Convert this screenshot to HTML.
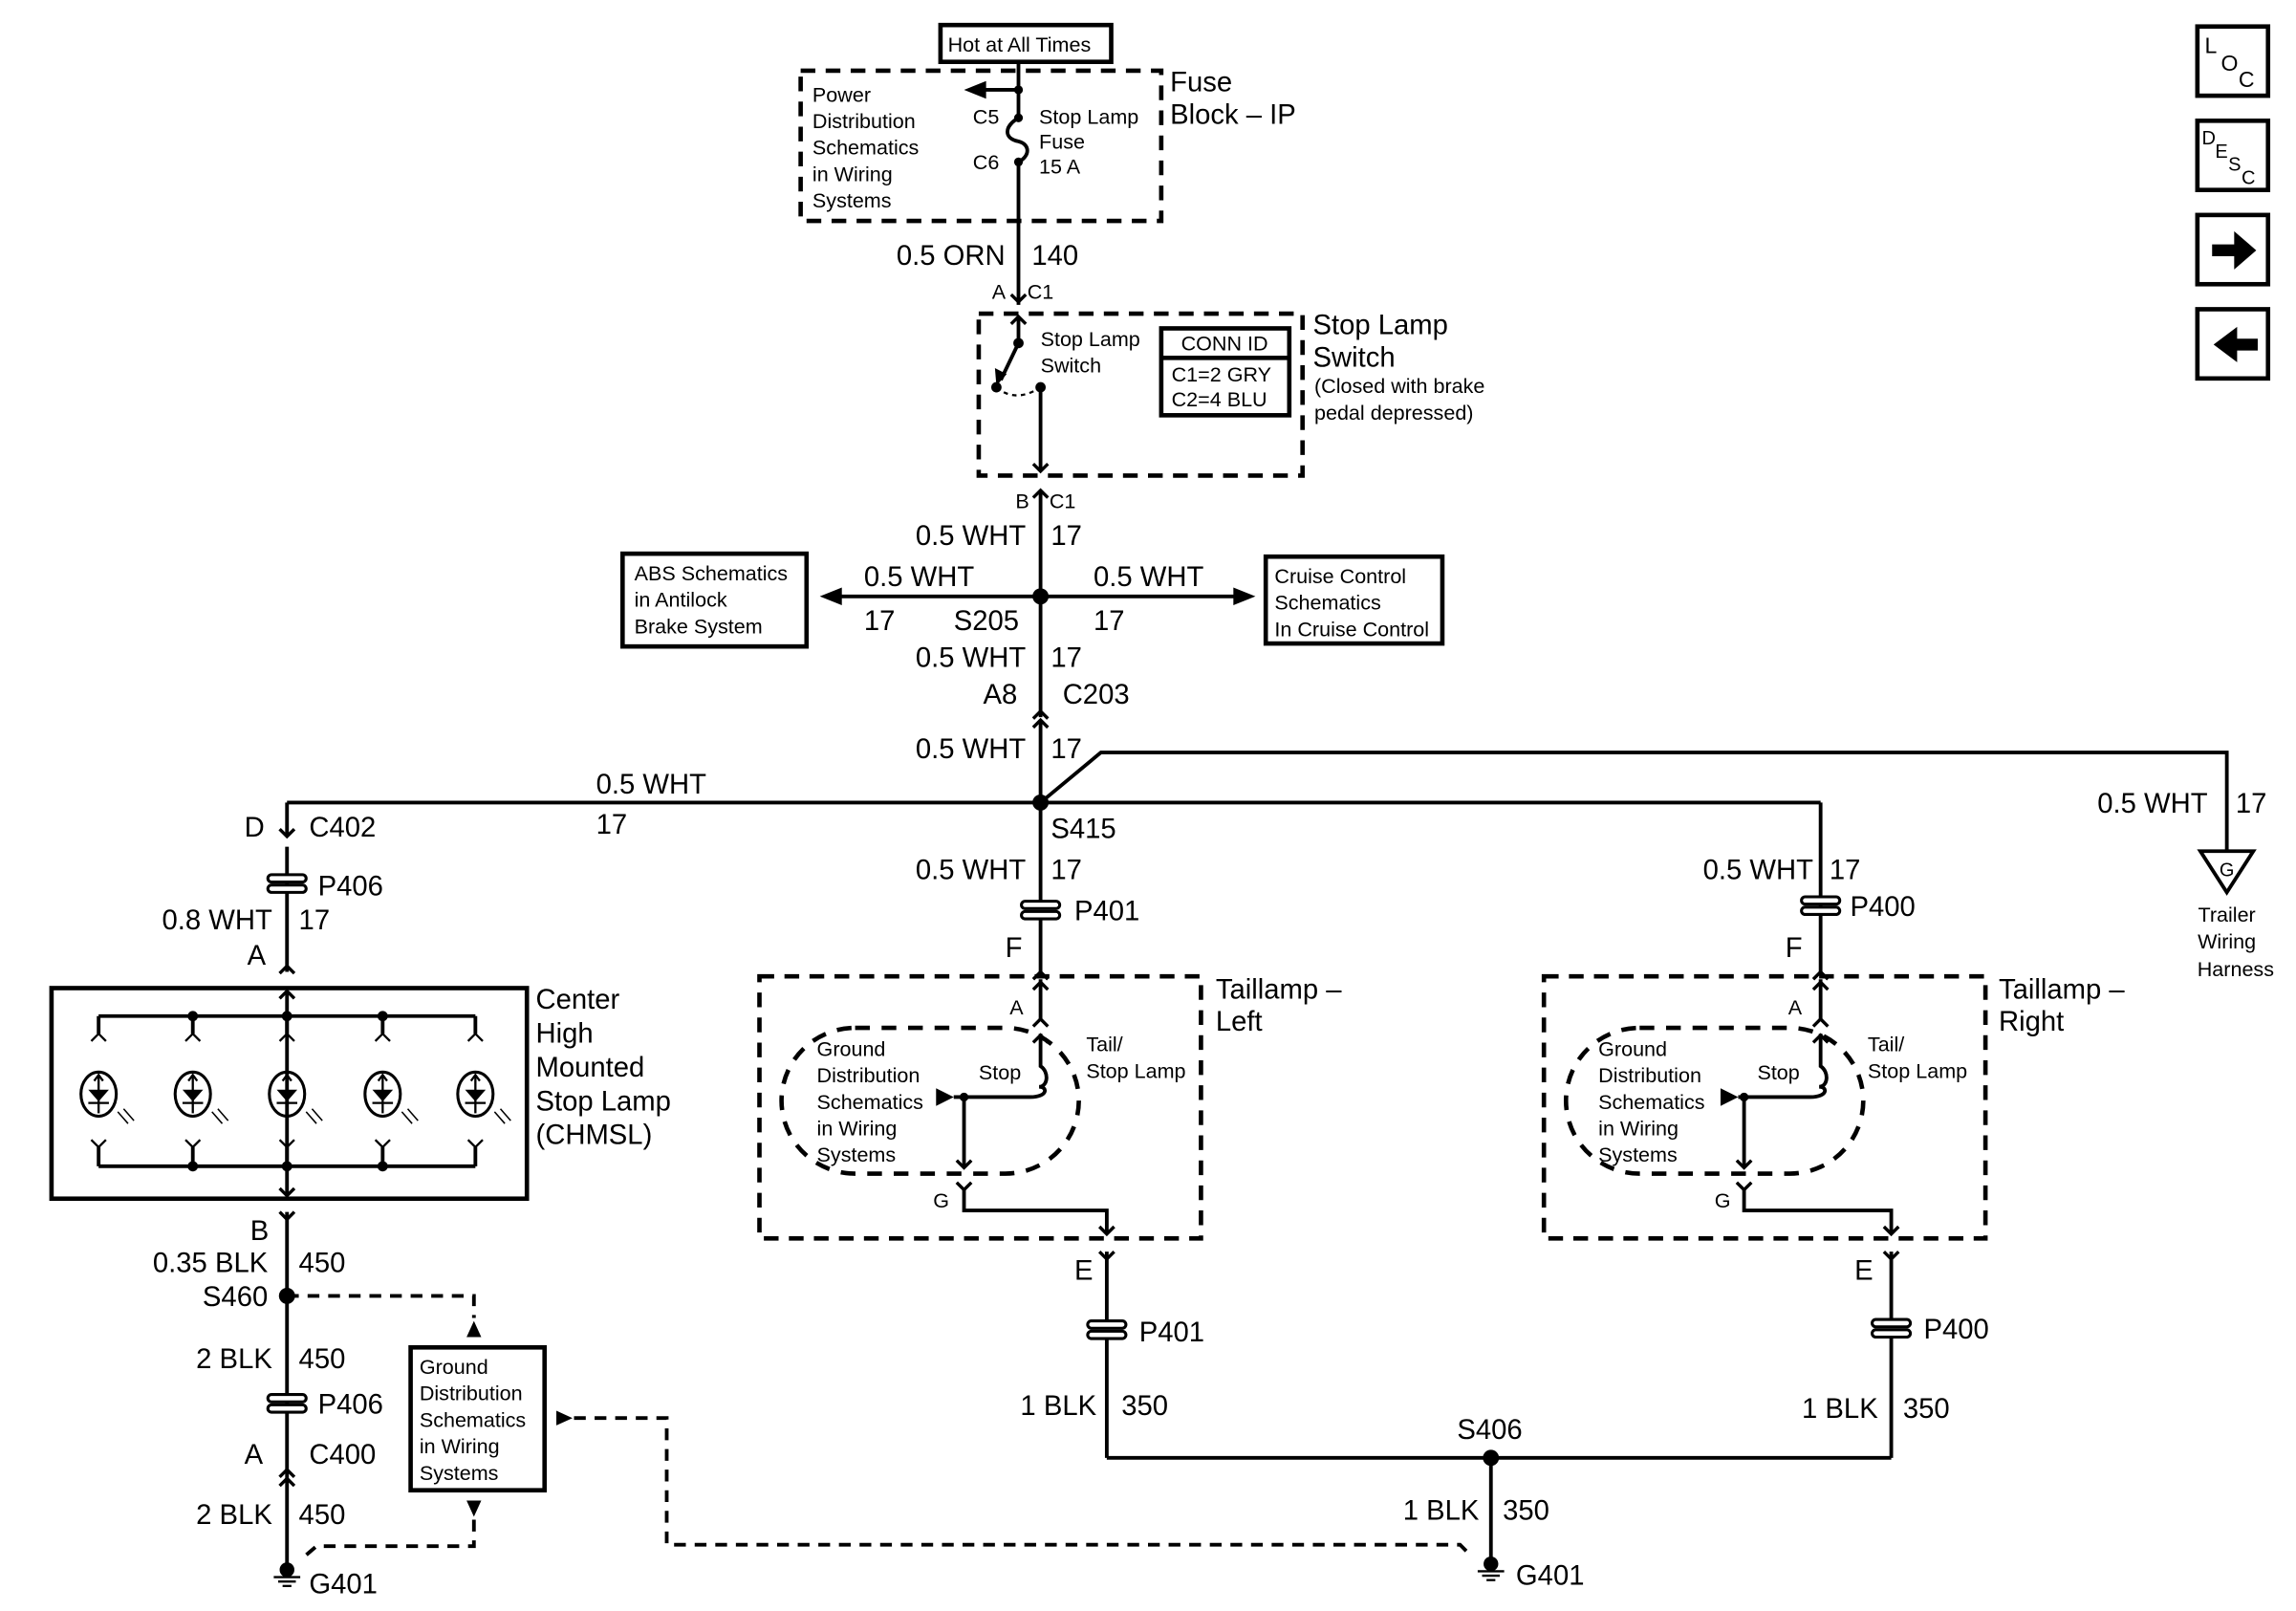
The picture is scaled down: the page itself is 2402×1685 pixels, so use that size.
<!DOCTYPE html>
<html><head><meta charset="utf-8"><style>
html,body{margin:0;padding:0;background:#fff;}
svg{display:block;}
text{font-family:"Liberation Sans",Arial,sans-serif;fill:#000;}
.b{font-size:19px;}
.s{font-size:14px;}
.m{font-size:13px;}
</style></head><body>
<svg width="2402" height="1685" viewBox="0 0 1560 1094" preserveAspectRatio="none" xmlns="http://www.w3.org/2000/svg">
<defs>
<g id="chv"><polyline points="-5,5 0,0 5,5" fill="none" stroke="#000" stroke-width="2.2"/></g>
<g id="chd"><polyline points="-5,-5 0,0 5,-5" fill="none" stroke="#000" stroke-width="2.2"/></g>
<g id="pc"><rect x="-13" y="-6" width="26" height="5" rx="2.5" fill="#fff" stroke="#000" stroke-width="2"/><rect x="-13" y="1" width="26" height="5" rx="2.5" fill="#fff" stroke="#000" stroke-width="2"/></g>
<g id="gnd"><circle cx="0" cy="0" r="5" fill="#000"/><line x1="-9" y1="5" x2="9" y2="5" stroke="#000" stroke-width="1.5"/><line x1="-6" y1="8" x2="6" y2="8" stroke="#000" stroke-width="1.5"/><line x1="-3" y1="11" x2="3" y2="11" stroke="#000" stroke-width="1.5"/></g>
<g id="lamp">
<polyline points="-5,-36 0,-41 5,-36" fill="none" stroke="#000" stroke-width="1.5"/>
<ellipse cx="0" cy="0" rx="12" ry="15" fill="none" stroke="#000" stroke-width="2"/>
<line x1="0" y1="-13" x2="0" y2="13" stroke="#000" stroke-width="1.5"/>
<polygon points="-7,-3 7,-3 0,5" fill="#000"/><line x1="-7" y1="6" x2="7" y2="6" stroke="#000" stroke-width="1.5"/>
<polyline points="-3,-9 0,-13 3,-9" fill="none" stroke="#000" stroke-width="1.5"/>
<polyline points="-5,31 0,36 5,31" fill="none" stroke="#000" stroke-width="1.5"/>
<line x1="13" y1="12" x2="20" y2="20" stroke="#000" stroke-width="1"/><line x1="17" y1="10" x2="24" y2="18" stroke="#000" stroke-width="1"/>
</g>
</defs>
<g stroke="#000" stroke-width="2.5" fill="none">
<rect x="639" y="17" width="116" height="25" stroke-width="3"/>
<rect x="544" y="48" width="245" height="102" stroke-width="3" stroke-dasharray="10,7"/>
<line x1="692" y1="42" x2="692" y2="80"/>
<line x1="692" y1="61" x2="668" y2="61" stroke-width="2.5"/>
<path d="M692,80 C682,86 682,94 692,96 C700,98 700,106 692,110"/>
<line x1="692" y1="110" x2="692" y2="207"/>
<line x1="692" y1="215" x2="692" y2="233"/>
<line x1="692" y1="233" x2="680" y2="258"/>
<path d="M677,263 Q690,274 707,263" stroke-dasharray="3,3" stroke-width="1.5"/>
<line x1="707" y1="263" x2="707" y2="320"/>
<rect x="665" y="213" width="220" height="110" stroke-width="3" stroke-dasharray="10,7"/>
<rect x="789" y="223" width="87" height="59" stroke-width="3"/>
<line x1="789" y1="243" x2="876" y2="243" stroke-width="3"/>
<line x1="707" y1="333" x2="707" y2="487"/>
<line x1="707" y1="490" x2="707" y2="614"/>
<line x1="570" y1="405" x2="840" y2="405" stroke-width="2.5"/>
<rect x="423" y="376" width="125" height="63" stroke-width="3"/>
<rect x="860" y="378" width="120" height="59" stroke-width="3"/>
<polyline points="707,545 748,511 1513,511 1513,578"/>
<polygon points="1495,578 1531,578 1513,606"/>
<line x1="195" y1="545" x2="1237" y2="545"/>
<line x1="195" y1="545" x2="195" y2="568"/>
<line x1="195" y1="575" x2="195" y2="660"/>
<line x1="1237" y1="545" x2="1237" y2="660"/>
<line x1="707" y1="620" x2="707" y2="660"/>
<rect x="35" y="671" width="323" height="143" stroke-width="3"/>
<line x1="195" y1="673" x2="195" y2="812"/>
<line x1="67" y1="690" x2="323" y2="690"/>
<line x1="67" y1="792" x2="323" y2="792"/>
<line x1="67" y1="690" x2="67" y2="702"/><line x1="131" y1="690" x2="131" y2="702"/><line x1="195" y1="690" x2="195" y2="702"/><line x1="260" y1="690" x2="260" y2="702"/><line x1="323" y1="690" x2="323" y2="702"/>
<line x1="67" y1="779" x2="67" y2="792"/><line x1="131" y1="779" x2="131" y2="792"/><line x1="195" y1="779" x2="195" y2="792"/><line x1="260" y1="779" x2="260" y2="792"/><line x1="323" y1="779" x2="323" y2="792"/>
<line x1="195" y1="823" x2="195" y2="1065"/>
<polyline points="195,880 322,880 322,895" stroke-dasharray="8,6"/>
<rect x="279" y="915" width="91" height="97" stroke-width="3"/>
<polyline points="322,1032 322,1050 215,1050 208,1056" stroke-dasharray="8,6"/>
<polyline points="390,963 453,963 453,1049 992,1049 1000,1057" stroke-dasharray="8,6"/>
<rect x="516" y="663" width="300" height="178" stroke-width="3" stroke-dasharray="10,7"/>
<rect x="531" y="698" width="202" height="99" rx="50" stroke-width="3" stroke-dasharray="10,8"/>
<line x1="707" y1="665" x2="707" y2="692"/>
<path d="M707,702 L707,724 C713,728 712,738 706,738 C712,738 712,745 700,745 L648,745"/>
<line x1="655" y1="745" x2="655" y2="793"/>
<polyline points="655,808 655,822 752,822 752,838"/>
<line x1="752" y1="850" x2="752" y2="900"/>
<line x1="752" y1="908" x2="752" y2="990"/>
<g transform="translate(533,0)">
<rect x="516" y="663" width="300" height="178" stroke-width="3" stroke-dasharray="10,7"/>
<rect x="531" y="698" width="202" height="99" rx="50" stroke-width="3" stroke-dasharray="10,8"/>
<line x1="704" y1="665" x2="704" y2="692"/>
<path d="M704,702 L704,724 C710,728 709,738 703,738 C709,738 709,745 697,745 L648,745"/>
<line x1="652" y1="745" x2="652" y2="793"/>
<polyline points="652,808 652,822 752,822 752,838"/>
<line x1="752" y1="850" x2="752" y2="898"/>
<line x1="752" y1="906" x2="752" y2="990"/>
</g>
<line x1="752" y1="990" x2="1285" y2="990"/>
<line x1="1013" y1="990" x2="1013" y2="1065"/>
<rect x="1493" y="18" width="48" height="47" stroke-width="3"/>
<rect x="1493" y="82" width="48" height="47" stroke-width="3"/>
<rect x="1493" y="146" width="48" height="47" stroke-width="3"/>
<rect x="1493" y="210" width="48" height="47" stroke-width="3"/>
</g>
<g fill="#000">
<polygon points="655,61 670,55 670,67"/>
<circle cx="692" cy="61" r="3"/><circle cx="692" cy="80" r="3"/><circle cx="692" cy="110" r="3"/>
<circle cx="692" cy="233" r="3.5"/><circle cx="677" cy="263" r="3.5"/><circle cx="707" cy="263" r="3.5"/>
<polygon points="677,262 676,250 684,254"/>
<polygon points="557,405 572,399 572,411"/><polygon points="853,405 838,399 838,411"/>
<circle cx="707" cy="405" r="5.5"/><circle cx="707" cy="545" r="5.5"/>
<circle cx="131" cy="690" r="3.5"/><circle cx="195" cy="690" r="3.5"/><circle cx="260" cy="690" r="3.5"/>
<circle cx="131" cy="792" r="3.5"/><circle cx="195" cy="792" r="3.5"/><circle cx="260" cy="792" r="3.5"/>
<circle cx="195" cy="880" r="5.5"/><circle cx="1013" cy="990" r="5.5"/>
<polygon points="322,897 317,908 327,908"/><polygon points="322,1030 317,1019 327,1019"/>
<polygon points="389,963 378,958 378,968"/>
<polygon points="648,745 636,739 636,751"/><circle cx="655" cy="745" r="3"/>
<polygon points="1181,745 1169,739 1169,751"/><circle cx="1185" cy="745" r="3"/>
<polygon points="1503,166 1518,166 1518,157 1533,170 1518,183 1518,174 1503,174"/>
<polygon points="1534,230 1520,230 1520,222 1504,234 1520,246 1520,238 1534,238"/>
</g>
<use href="#chd" x="692" y="205"/><use href="#chv" x="692" y="215"/>
<use href="#chv" x="707" y="333"/><use href="#chd" x="707" y="320"/>
<use href="#chv" x="707" y="483"/><use href="#chv" x="707" y="489"/>
<use href="#chd" x="195" y="568"/><use href="#pc" x="195" y="600"/>
<use href="#chv" x="195" y="656"/><use href="#chv" x="195" y="673"/><use href="#chd" x="195" y="812"/><use href="#chd" x="195" y="828"/>
<use href="#pc" x="195" y="953"/>
<use href="#chv" x="195" y="998"/><use href="#chv" x="195" y="1004"/>
<use href="#gnd" x="195" y="1066"/><use href="#gnd" x="1013" y="1062"/>
<use href="#pc" x="707" y="618"/><use href="#pc" x="1237" y="615"/>
<use href="#chv" x="707" y="660"/><use href="#chv" x="707" y="667"/><use href="#chv" x="707" y="692"/><use href="#chv" x="707" y="703"/>
<use href="#chv" x="1237" y="660"/><use href="#chv" x="1237" y="667"/><use href="#chv" x="1237" y="692"/><use href="#chv" x="1237" y="703"/>
<use href="#chd" x="655" y="793"/><use href="#chd" x="655" y="808"/><use href="#chd" x="752" y="838"/><use href="#chd" x="752" y="855"/>
<use href="#chd" x="1185" y="793"/><use href="#chd" x="1185" y="808"/><use href="#chd" x="1285" y="838"/><use href="#chd" x="1285" y="855"/>
<use href="#pc" x="752" y="903"/><use href="#pc" x="1285" y="902"/>
<use href="#lamp" x="67" y="743"/><use href="#lamp" x="131" y="743"/><use href="#lamp" x="195" y="743"/><use href="#lamp" x="260" y="743"/><use href="#lamp" x="323" y="743"/>
<text class="s" x="644" y="35">Hot at All Times</text>
<g class="s"><text x="552" y="69">Power</text><text x="552" y="87">Distribution</text><text x="552" y="105">Schematics</text><text x="552" y="123">in Wiring</text><text x="552" y="141">Systems</text>
<text x="661" y="84">C5</text><text x="661" y="115">C6</text><text x="706" y="84">Stop Lamp</text><text x="706" y="101">Fuse</text><text x="706" y="118">15 A</text></g>
<text class="b" x="795" y="62">Fuse</text><text class="b" x="795" y="84">Block – IP</text>
<text class="b" x="683" y="180" text-anchor="end">0.5 ORN</text><text class="b" x="701" y="180">140</text>
<text class="s" x="674" y="203">A</text><text class="s" x="698" y="203">C1</text>
<text class="s" x="707" y="235">Stop Lamp</text><text class="s" x="707" y="253">Switch</text>
<text class="s" x="832" y="238" text-anchor="middle">CONN ID</text><text class="s" x="796" y="259">C1=2 GRY</text><text class="s" x="796" y="276">C2=4 BLU</text>
<text class="b" x="892" y="227">Stop Lamp</text><text class="b" x="892" y="249">Switch</text>
<text class="s" x="893" y="267">(Closed with brake</text><text class="s" x="893" y="285">pedal depressed)</text>
<text class="s" x="690" y="345">B</text><text class="s" x="713" y="345">C1</text>
<text class="b" x="697" y="370" text-anchor="end">0.5 WHT</text><text class="b" x="714" y="370">17</text>
<text class="s" x="431" y="394">ABS Schematics</text><text class="s" x="431" y="412">in Antilock</text><text class="s" x="431" y="430">Brake System</text>
<text class="s" x="866" y="396">Cruise Control</text><text class="s" x="866" y="414">Schematics</text><text class="s" x="866" y="432">In Cruise Control</text>
<text class="b" x="587" y="398">0.5 WHT</text><text class="b" x="587" y="428">17</text><text class="b" x="648" y="428">S205</text>
<text class="b" x="743" y="398">0.5 WHT</text><text class="b" x="743" y="428">17</text>
<text class="b" x="697" y="453" text-anchor="end">0.5 WHT</text><text class="b" x="714" y="453">17</text>
<text class="b" x="668" y="478">A8</text><text class="b" x="722" y="478">C203</text>
<text class="b" x="697" y="515" text-anchor="end">0.5 WHT</text><text class="b" x="714" y="515">17</text>
<text class="b" x="405" y="539">0.5 WHT</text><text class="b" x="405" y="566">17</text>
<text class="b" x="166" y="568">D</text><text class="b" x="210" y="568">C402</text>
<text class="b" x="714" y="569">S415</text>
<text class="b" x="1500" y="552" text-anchor="end">0.5 WHT</text><text class="b" x="1519" y="552">17</text>
<text class="m" x="1513" y="595" text-anchor="middle">G</text>
<text class="s" x="1513" y="626" text-anchor="middle">Trailer</text><text class="s" x="1513" y="644" text-anchor="middle">Wiring</text><text class="s" x="1519" y="663" text-anchor="middle">Harness</text>
<text class="b" x="216" y="608">P406</text>
<text class="b" x="185" y="631" text-anchor="end">0.8 WHT</text><text class="b" x="203" y="631">17</text>
<text class="b" x="168" y="655">A</text>
<text class="b" x="697" y="597" text-anchor="end">0.5 WHT</text><text class="b" x="714" y="597">17</text>
<text class="b" x="730" y="625">P401</text><text class="b" x="683" y="650">F</text>
<text class="b" x="1232" y="597" text-anchor="end">0.5 WHT</text><text class="b" x="1243" y="597">17</text>
<text class="b" x="1257" y="622">P400</text><text class="b" x="1213" y="650">F</text>
<g class="b"><text x="364" y="685">Center</text><text x="364" y="708">High</text><text x="364" y="731">Mounted</text><text x="364" y="754">Stop Lamp</text><text x="364" y="777">(CHMSL)</text></g>
<text class="b" x="170" y="842">B</text>
<text class="b" x="182" y="864" text-anchor="end">0.35 BLK</text><text class="b" x="203" y="864">450</text>
<text class="b" x="182" y="887" text-anchor="end">S460</text>
<text class="b" x="185" y="929" text-anchor="end">2 BLK</text><text class="b" x="203" y="929">450</text>
<text class="b" x="216" y="960">P406</text>
<text class="b" x="166" y="994">A</text><text class="b" x="210" y="994">C400</text>
<text class="b" x="185" y="1035" text-anchor="end">2 BLK</text><text class="b" x="203" y="1035">450</text>
<text class="b" x="210" y="1082">G401</text>
<g class="s"><text x="285" y="933">Ground</text><text x="285" y="951">Distribution</text><text x="285" y="969">Schematics</text><text x="285" y="987">in Wiring</text><text x="285" y="1005">Systems</text></g>
<g class="s"><text x="555" y="717">Ground</text><text x="555" y="735">Distribution</text><text x="555" y="753">Schematics</text><text x="555" y="771">in Wiring</text><text x="555" y="789">Systems</text>
<text x="665" y="733">Stop</text><text x="738" y="714">Tail/</text><text x="738" y="732">Stop Lamp</text><text x="686" y="689">A</text><text x="634" y="820">G</text></g>
<g class="s" transform="translate(531,0)"><text x="555" y="717">Ground</text><text x="555" y="735">Distribution</text><text x="555" y="753">Schematics</text><text x="555" y="771">in Wiring</text><text x="555" y="789">Systems</text>
<text x="663" y="733">Stop</text><text x="738" y="714">Tail/</text><text x="738" y="732">Stop Lamp</text><text x="684" y="689">A</text><text x="634" y="820">G</text></g>
<text class="b" x="826" y="678">Taillamp –</text><text class="b" x="826" y="700">Left</text>
<text class="b" x="1358" y="678">Taillamp –</text><text class="b" x="1358" y="700">Right</text>
<text class="b" x="730" y="869">E</text><text class="b" x="1260" y="869">E</text>
<text class="b" x="774" y="911">P401</text><text class="b" x="1307" y="909">P400</text>
<text class="b" x="745" y="961" text-anchor="end">1 BLK</text><text class="b" x="762" y="961">350</text>
<text class="b" x="1276" y="963" text-anchor="end">1 BLK</text><text class="b" x="1293" y="963">350</text>
<text class="b" x="990" y="977">S406</text>
<text class="b" x="1005" y="1032" text-anchor="end">1 BLK</text><text class="b" x="1021" y="1032">350</text>
<text class="b" x="1030" y="1076">G401</text>
<text x="1498" y="36" style="font-size:15px">L</text><text x="1509" y="48" style="font-size:15px">O</text><text x="1521" y="59" style="font-size:15px">C</text>
<text x="1496" y="98" style="font-size:13px">D</text><text x="1505" y="107" style="font-size:13px">E</text><text x="1514" y="116" style="font-size:13px">S</text><text x="1523" y="125" style="font-size:13px">C</text>
</svg>
</body></html>
